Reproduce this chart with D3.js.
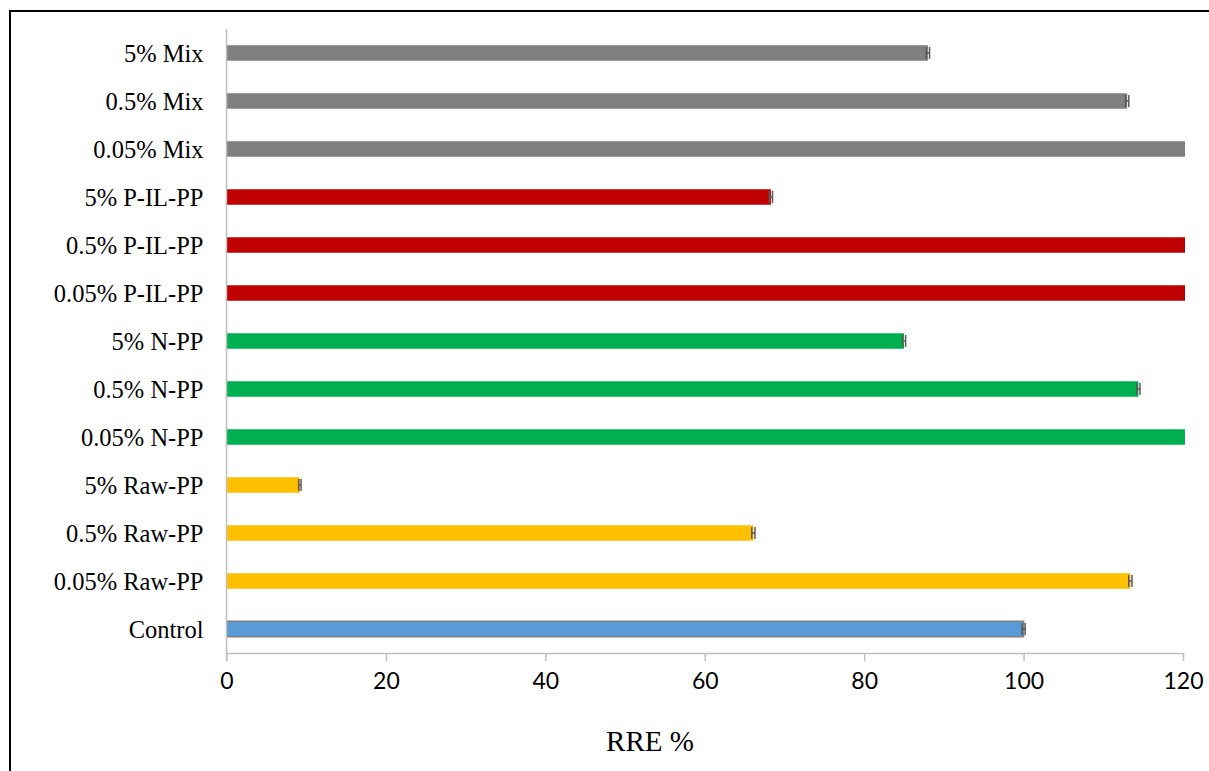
<!DOCTYPE html>
<html>
<head>
<meta charset="utf-8">
<script src="https://cdn.jsdelivr.net/npm/d3@7"></script>
<style>
  html, body { margin: 0; padding: 0; background: #fff; }
  svg { display: block; }
</style>
</head>
<body>
<svg id="chart" width="1209" height="771"></svg>
<script>
// Categories listed bottom to top
const categories = [
  "Control",
  "0.05% Raw-PP", "0.5% Raw-PP", "5% Raw-PP",
  "0.05% N-PP", "0.5% N-PP", "5% N-PP",
  "0.05% P-IL-PP", "0.5% P-IL-PP", "5% P-IL-PP",
  "0.05% Mix", "0.5% Mix", "5% Mix"
];
// RRE % per treatment (values above 120 run off the axis)
const rreValues = [100, 113.4, 66.1, 9.2, 125, 114.4, 85.0, 125, 125, 68.3, 125, 113.0, 88.0];
// Standard error per treatment (null where the bar runs off the axis)
const rreErrors = [0.2, 0.2, 0.2, 0.15, null, 0.2, 0.2, null, null, 0.2, null, 0.2, 0.2];
const groupOf = ["control", "raw", "raw", "raw", "n", "n", "n", "pil", "pil", "pil", "mix", "mix", "mix"];
const groupColors = { control: "#5b9bd5", raw: "#ffc000", n: "#00b050", pil: "#c00000", mix: "#808080" };
const xTicks = [0, 20, 40, 60, 80, 100, 120];
const xTitle = "RRE %";

const svg = d3.select("#chart");
const margin = { left: 226.5, right: 26, top: 29, bottom: 118 };
const W = 1209, H = 771;
const innerW = W - margin.left - margin.right;
const innerH = H - margin.top - margin.bottom;

// outer frame
svg.append("path")
  .attr("d", `M10,${H + 2} L10,11 L${W + 2},11`)
  .attr("fill", "none").attr("stroke", "#000").attr("stroke-width", 2);

const g = svg.append("g").attr("transform", `translate(${margin.left},${margin.top})`);

const x = d3.scaleLinear().domain([0, 120]).range([0, innerW]);
const y = d3.scaleBand().domain(categories.slice().reverse()).range([0, innerH]).paddingInner(0.677).paddingOuter(0.3385);

g.append("clipPath").attr("id", "plotClip")
  .append("rect").attr("x", 0).attr("y", -5).attr("width", innerW + 2).attr("height", innerH + 10);

const rows = categories.map((c, i) => ({ c, v: rreValues[i], e: rreErrors[i], grp: groupOf[i] }));

const bars = g.append("g").attr("clip-path", "url(#plotClip)");
bars.selectAll("rect.bar").data(rows).join("rect")
  .attr("class", "bar")
  .attr("x", x(0))
  .attr("y", d => y(d.c))
  .attr("width", d => x(d.v) - x(0))
  .attr("height", y.bandwidth())
  .attr("fill", d => groupColors[d.grp])
  .attr("stroke", d => d.grp === "control" ? "#7f7f7f" : "none")
  .attr("stroke-width", 1.5);

// error bars
const eb = g.append("g");
rows.filter(d => d.e !== null).forEach(d => {
  const cy = y(d.c) + y.bandwidth() / 2;
  const x0 = x(d.v - d.e), x1 = x(d.v + d.e);
  eb.append("line").attr("x1", x0).attr("x2", x1).attr("y1", cy).attr("y2", cy)
    .attr("stroke", "#595959").attr("stroke-width", 1.5);
  [x0, x1].forEach(xx => eb.append("line")
    .attr("x1", xx).attr("x2", xx).attr("y1", cy - 6).attr("y2", cy + 6)
    .attr("stroke", "#595959").attr("stroke-width", 1.5));
});

// x axis
const xAxis = g.append("g").attr("transform", `translate(0,${innerH})`)
  .call(d3.axisBottom(x).tickValues(xTicks).tickSize(8).tickSizeOuter(0).tickPadding(12));
xAxis.select(".domain").attr("stroke", "#bfbfbf").attr("stroke-width", 1.5);
xAxis.selectAll(".tick line").attr("stroke", "#bfbfbf").attr("stroke-width", 1.5);
xAxis.selectAll(".tick text")
  .attr("font-family", "Lato, 'Open Sans', sans-serif").attr("font-size", 23).attr("fill", "#000");

// y axis line and labels
g.append("line").attr("x1", 0).attr("x2", 0).attr("y1", 0).attr("y2", innerH + 8)
  .attr("stroke", "#bfbfbf").attr("stroke-width", 1.5);
g.append("g").selectAll("text").data(categories).join("text")
  .attr("x", -23)
  .attr("y", d => y(d) + y.bandwidth() / 2)
  .attr("dy", "0.35em")
  .attr("text-anchor", "end")
  .attr("font-family", "'Liberation Serif', 'Times New Roman', serif")
  .attr("font-size", 24.5)
  .attr("fill", "#000")
  .text(d => d);

// axis title
svg.append("text")
  .attr("x", 650).attr("y", 751)
  .attr("text-anchor", "middle")
  .attr("font-family", "'Liberation Serif', 'Times New Roman', serif")
  .attr("font-size", 29)
  .attr("fill", "#000")
  .text(xTitle);
</script>
</body>
</html>
